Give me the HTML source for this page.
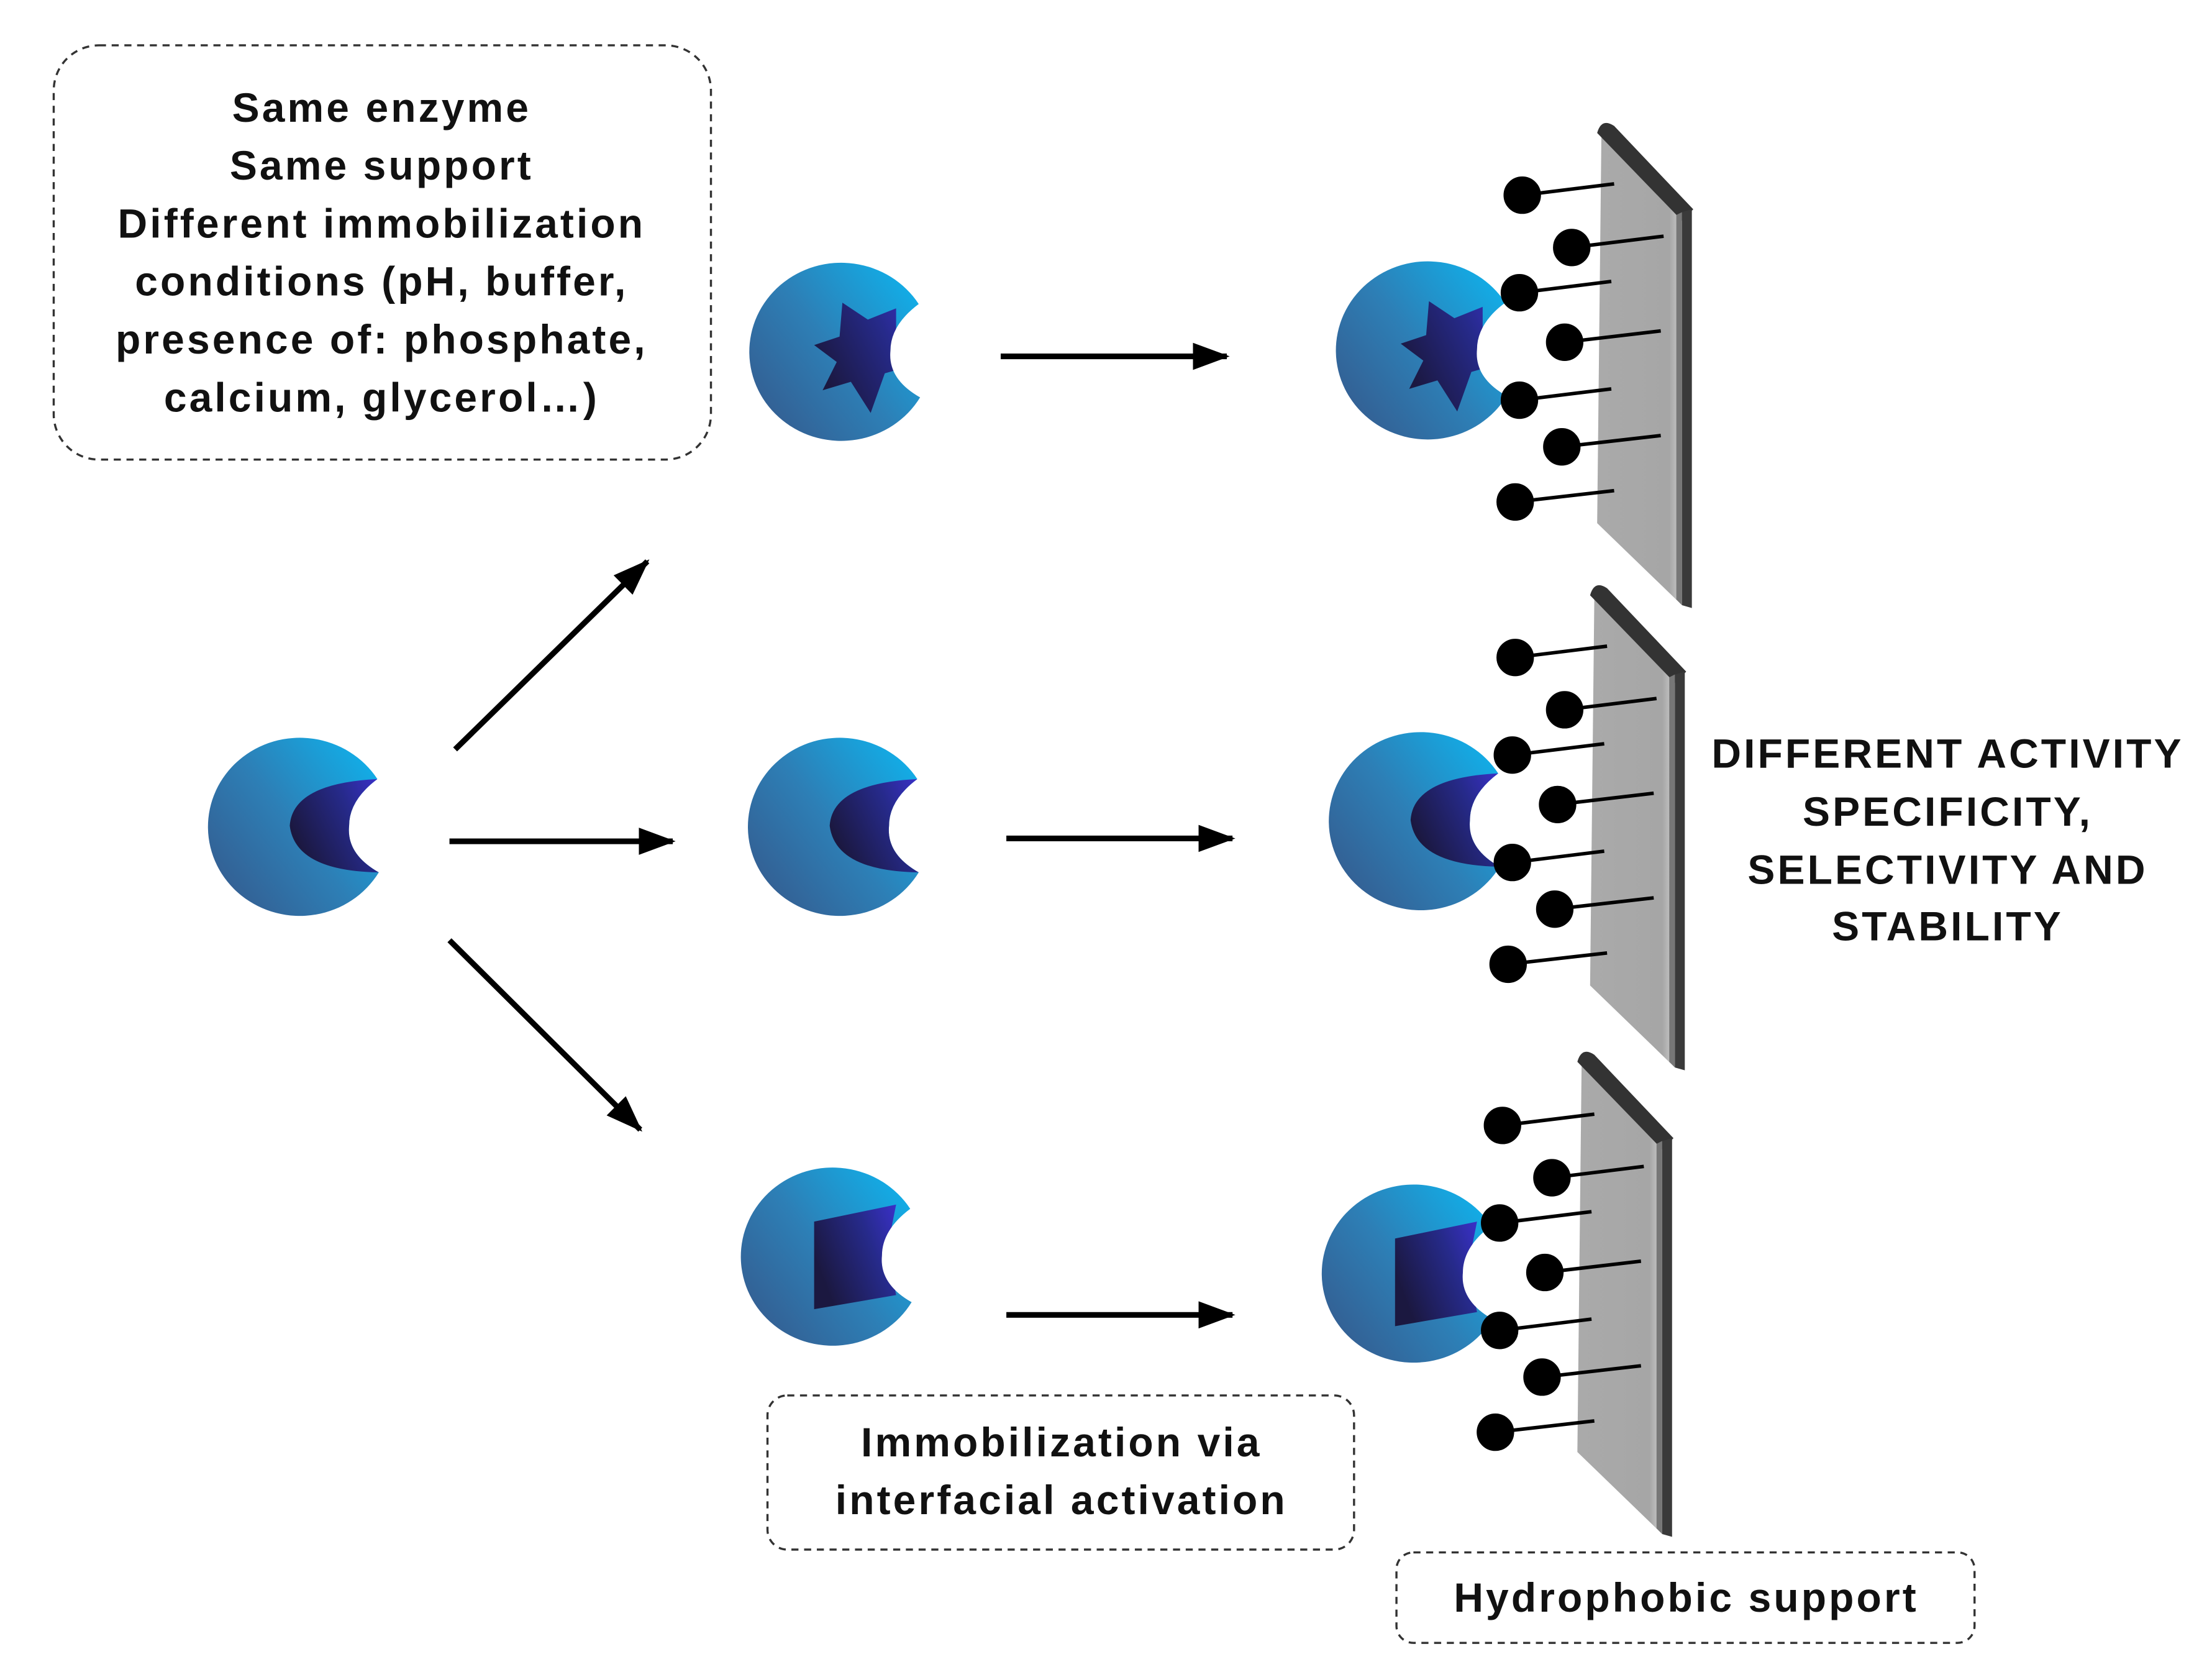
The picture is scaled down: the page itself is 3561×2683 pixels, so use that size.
<!DOCTYPE html>
<html><head><meta charset="utf-8"><style>
html,body{margin:0;padding:0;background:#fff}
svg{display:block}
text{font-family:"Liberation Sans",sans-serif;font-size:29px;font-weight:bold;fill:#111;letter-spacing:1.8px;text-anchor:middle}
</style></head><body>
<svg width="3561" height="2683" viewBox="0 0 1565 1179" xmlns="http://www.w3.org/2000/svg">
<defs>
<linearGradient id="body" x1="0" y1="0.9" x2="1" y2="0.1">
<stop offset="0" stop-color="#35598c"/><stop offset="0.5" stop-color="#2d7fb6"/><stop offset="1" stop-color="#0fb2ec"/></linearGradient>
<linearGradient id="pock" x1="0" y1="0.5" x2="1" y2="0">
<stop offset="0" stop-color="#1b1840"/><stop offset="0.6" stop-color="#262a8a"/><stop offset="1" stop-color="#3a30c8"/></linearGradient>
<linearGradient id="plate" x1="0" y1="0" x2="1" y2="0">
<stop offset="0" stop-color="#aaa"/><stop offset="0.85" stop-color="#a6a6a6"/><stop offset="1" stop-color="#cfcfcf"/></linearGradient>
<path id="bodyS" d="M60,-33 A65,63 0 1 0 61,33 Q38,20 40,0 Q40,-18 60,-33 Z" fill="url(#body)"/>
<path id="notch" d="M60,-33 Q40,-18 40,0 Q38,20 61,33 L80,34 L80,-33 Z" fill="#fff"/>
<marker id="ah" markerWidth="8" markerHeight="8" refX="6" refY="4" orient="auto" markerUnits="strokeWidth"><path d="M0,1.6 L6.5,4 L0,6.4 Z" fill="#000"/></marker>
<g id="sup">
<polygon points="3,7 60,62 60,340 0,282" fill="url(#plate)"/>
<path d="M0,6 Q3,-5 12,1 L68,60 L60,68 Z" fill="#333"/>
<path d="M60,62 L67,60 L67,342 L60,340 Z" fill="#3a3a3a"/>
<path d="M56,64 L60,62 L60,340 L56,336 Z" fill="#777"/>
</g>
<g id="lol" stroke="#000" stroke-width="2.5">
<line x1="-53" y1="50" x2="12" y2="42"/><circle cx="-53" cy="50" r="12"/>
<line x1="-18" y1="87" x2="47" y2="79"/><circle cx="-18" cy="87" r="12"/>
<line x1="-55" y1="119" x2="10" y2="111"/><circle cx="-55" cy="119" r="12"/>
<line x1="-23" y1="154" x2="45" y2="146"/><circle cx="-23" cy="154" r="12"/>
<line x1="-55" y1="195" x2="10" y2="187"/><circle cx="-55" cy="195" r="12"/>
<line x1="-25" y1="228" x2="45" y2="220"/><circle cx="-25" cy="228" r="12"/>
<line x1="-58" y1="267" x2="12" y2="259"/><circle cx="-58" cy="267" r="12"/>
</g>
<g id="encC"><use href="#bodyS"/><path d="M60,-33 Q0,-30 -2,0 Q2,32 61,33 Q38,20 40,0 Q40,-18 60,-33 Z" fill="url(#pock)"/></g>
<g id="encS"><use href="#bodyS"/><polygon points="-14,-4 4,-10 6,-34 24,-22 44,-30 44,-8 64,8 36,16 26,44 12,22 -8,28 2,8" fill="url(#pock)"/><use href="#notch"/></g>
<g id="encT"><use href="#bodyS"/><polygon points="-8,-24 50,-36 44,-6 50,28 -8,38" fill="url(#pock)"/><use href="#notch"/></g>
</defs>
<rect x="0" y="0" width="1565" height="1179" fill="#fff"/>
<rect x="38" y="32" width="465" height="293" rx="32" fill="none" stroke="#333" stroke-width="1.5" stroke-dasharray="5,4"/>
<text x="270" y="86">Same enzyme</text>
<text x="270" y="127">Same support</text>
<text x="270" y="168">Different immobilization</text>
<text x="270" y="209">conditions (pH, buffer,</text>
<text x="270" y="250">presence of: phosphate,</text>
<text x="270" y="291">calcium, glycerol…)</text>
<rect x="543" y="987" width="415" height="109" rx="14" fill="none" stroke="#333" stroke-width="1.5" stroke-dasharray="5,4"/>
<text x="751" y="1030">Immobilization via</text>
<text x="751" y="1071">interfacial activation</text>
<rect x="988" y="1098" width="409" height="64" rx="12" fill="none" stroke="#333" stroke-width="1.5" stroke-dasharray="5,4"/>
<text x="1193" y="1140">Hydrophobic support</text>
<text x="1378" y="543">DIFFERENT ACTIVITY</text>
<text x="1378" y="584">SPECIFICITY,</text>
<text x="1378" y="625">SELECTIVITY AND</text>
<text x="1378" y="665">STABILITY</text>
<g stroke="#000" stroke-width="4" marker-end="url(#ah)">
<line x1="322" y1="530" x2="458" y2="397"/>
<line x1="318" y1="595" x2="476" y2="595"/>
<line x1="318" y1="665" x2="453" y2="799"/>
<line x1="708" y1="252" x2="868" y2="252"/>
<line x1="712" y1="593" x2="872" y2="593"/>
<line x1="712" y1="930" x2="872" y2="930"/>
</g>
<use href="#sup" transform="translate(1130,88)"/>
<use href="#sup" transform="translate(1125,415)"/>
<use href="#sup" transform="translate(1116,745)"/>
<use href="#encC" transform="translate(207,584)"/>
<use href="#encS" transform="translate(590,248)"/>
<use href="#encC" transform="translate(589,584)"/>
<use href="#encT" transform="translate(584,888)"/>
<use href="#encS" transform="translate(1005,247)"/>
<use href="#encC" transform="translate(1000,580)"/>
<use href="#encT" transform="translate(995,900)"/>
<use href="#lol" transform="translate(1130,88)"/>
<use href="#lol" transform="translate(1125,415)"/>
<use href="#lol" transform="translate(1116,746)"/>
</svg>
</body></html>
